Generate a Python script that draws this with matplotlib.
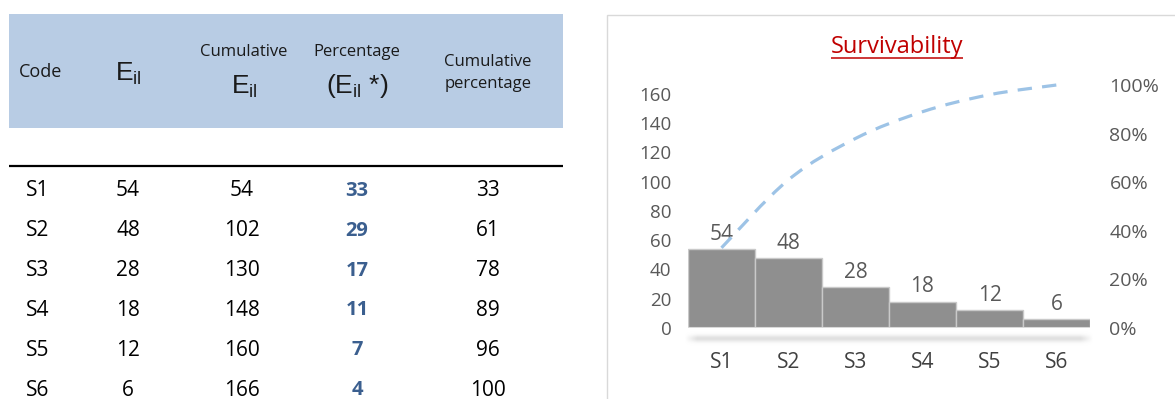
import numpy as np
import matplotlib
matplotlib.use("Agg")
import matplotlib.pyplot as plt
from matplotlib.path import Path
from matplotlib.patches import PathPatch, Rectangle

# ---- data -------------------------------------------------------------
codes = ["S1", "S2", "S3", "S4", "S5", "S6"]
e_il = [54, 48, 28, 18, 12, 6]
cumulative_e_il = [54, 102, 130, 148, 160, 166]
percentage = [33, 29, 17, 11, 7, 4]
cumulative_pct = [33, 61, 78, 89, 96, 100]

left_ticks = [0, 20, 40, 60, 80, 100, 120, 140, 160]
right_ticks = [0, 20, 40, 60, 80, 100]
chart_title = "Survivability"

W, H = 1175, 399
fig = plt.figure(figsize=(W / 100, H / 100), dpi=100)
fig.patch.set_facecolor("white")

# full-figure canvas in pixel units (y downwards) for the table and frame
canvas = fig.add_axes([0, 0, 1, 1], zorder=0)
canvas.set_xlim(0, W)
canvas.set_ylim(H, 0)
canvas.axis("off")

CHART_FONT = "Open Sans"
TABLE_FONT = "Open Sans"
HEAD_FONT = "Open Sans"
E_FONT = "Liberation Sans"

# ---- table ------------------------------------------------------------
canvas.add_patch(Rectangle((9, 14), 554, 114, facecolor="#B8CCE4", edgecolor="none"))
canvas.plot([9, 563], [166, 166], color="black", lw=1.6, solid_capstyle="butt")

hc = "#1a1a1a"
canvas.text(19, 72, "Code", fontsize=13, family=HEAD_FONT, color=hc, ha="left", va="center")
canvas.text(128, 74, r"$\mathregular{E_{il}}$", fontsize=19, family=E_FONT, color=hc,
            ha="center", va="center")
canvas.text(244, 52, "Cumulative", fontsize=12, family=HEAD_FONT, color=hc, ha="center", va="center")
canvas.text(244, 87, r"$\mathregular{E_{il}}$", fontsize=19, family=E_FONT, color=hc,
            ha="center", va="center")
canvas.text(357, 52, "Percentage", fontsize=12, family=HEAD_FONT, color=hc, ha="center", va="center")
canvas.text(357, 86, r"$\mathregular{(E_{il}}$ *)", fontsize=19, family=E_FONT, color=hc,
            ha="center", va="center")
canvas.text(488, 62, "Cumulative", fontsize=12, family=HEAD_FONT, color=hc, ha="center", va="center")
canvas.text(488, 84, "percentage", fontsize=12, family=HEAD_FONT, color=hc, ha="center", va="center")

row_y0, row_dy = 191, 39.8
for i in range(len(codes)):
    y = row_y0 + i * row_dy
    canvas.text(26, y, codes[i], fontsize=15, family=TABLE_FONT, color="black", ha="left", va="center")
    canvas.text(128, y, str(e_il[i]), fontsize=15, family=TABLE_FONT, color="black",
                ha="center", va="center")
    canvas.text(242, y, str(cumulative_e_il[i]), fontsize=15, family=TABLE_FONT, color="black",
                ha="center", va="center")
    canvas.text(357, y, str(percentage[i]), fontsize=14.5, family=TABLE_FONT, color="#3B5F8F",
                weight="bold", ha="center", va="center")
    canvas.text(488, y, str(cumulative_pct[i]), fontsize=15, family=TABLE_FONT, color="black",
                ha="center", va="center")

# ---- chart frame ------------------------------------------------------
canvas.add_patch(Rectangle((606.5, 14.5), 700, 500, facecolor="white", edgecolor="#D9D9D9", lw=1.0))

# soft shadow under the category axis
shadow = fig.add_axes([684 / W, (H - 348) / H, 410 / W, 20 / H], zorder=1)
prof = np.exp(-((np.linspace(-1, 1, 40) - 0.05) / 0.35) ** 2)
hx = np.linspace(0, 1, 200)
horiz = np.clip(np.minimum(hx / 0.03, (1 - hx) / 0.03), 0, 1)
alpha = (prof[:, None] * horiz[None, :]) * 0.55
rgba = np.zeros((40, 200, 4))
rgba[..., :3] = 0.78
rgba[..., 3] = alpha
shadow.imshow(rgba, aspect="auto", interpolation="bilinear")
shadow.axis("off")

# ---- pareto chart -----------------------------------------------------
ax = fig.add_axes([688 / W, (H - 328) / H, 402 / W, 243 / H], zorder=2)
ax.set_facecolor("none")
x = np.arange(len(codes))
ax.bar(x, e_il, width=1.0, color="#8F8F8F", edgecolor="#C9C9C9", linewidth=1.0, zorder=2)
ax.axhline(0, color="#D9D9D9", lw=1.5, zorder=3)
ax.set_xlim(-0.5, len(codes) - 0.5)
ax.set_ylim(0, sum(e_il))
ax.set_yticks(left_ticks)
ax.set_yticklabels([str(t) for t in left_ticks])
ax.set_xticks(x)
ax.set_xticklabels(codes)
ax.tick_params(axis="y", length=0, pad=12, labelsize=13.5, labelcolor="#595959")
ax.tick_params(axis="x", length=0, pad=17, labelsize=15, labelcolor="#404040")
for lab in ax.get_xticklabels() + ax.get_yticklabels():
    lab.set_family(CHART_FONT)
for s in ax.spines.values():
    s.set_visible(False)

for xi, v in zip(x, e_il):
    ax.annotate(str(v), (xi, v), xytext=(0, 3), textcoords="offset points", ha="center",
                va="bottom", fontsize=15, family=CHART_FONT, color="#595959", zorder=4)

ax2 = ax.twinx()
ax2.set_ylim(0, 1)
ax2.set_yticks([t / 100 for t in right_ticks])
ax2.set_yticklabels([f"{t}%" for t in right_ticks])
ax2.tick_params(axis="y", length=0, pad=14, labelsize=14, labelcolor="#595959")
for lab in ax2.get_yticklabels():
    lab.set_family(CHART_FONT)
for s in ax2.spines.values():
    s.set_visible(False)

# smoothed cumulative line (cubic Bezier through the data points)
px = x.astype(float)
py = np.array(cumulative_pct, dtype=float) / 100
pts = np.column_stack([px, py])
ext = np.vstack([pts[0], pts, pts[-1]])
verts = [tuple(pts[0])]
codes_path = [Path.MOVETO]
for i in range(len(pts) - 1):
    p0, p1, p2, p3 = ext[i], ext[i + 1], ext[i + 2], ext[i + 3]
    c1 = p1 + (p2 - p0) / 6
    c2 = p2 - (p3 - p1) / 6
    verts += [tuple(c1), tuple(c2), tuple(p2)]
    codes_path += [Path.CURVE4] * 3
curve = PathPatch(Path(verts, codes_path), facecolor="none", edgecolor="#9DC3E6", lw=2.3,
                  linestyle=(0, (4.5, 3.2)), zorder=5, clip_on=False)
ax2.add_patch(curve)

# ---- title with underline --------------------------------------------
title = canvas.text(897, 53, chart_title, fontsize=17, family=CHART_FONT, color="#C00000",
                    ha="center", va="baseline")
fig.canvas.draw()
bb = title.get_window_extent(renderer=fig.canvas.get_renderer())
canvas.plot([bb.x0, bb.x1], [57.5, 57.5], color="#C00000", lw=1.1, solid_capstyle="butt")

fig.savefig("out.png", dpi=100, facecolor="white")
